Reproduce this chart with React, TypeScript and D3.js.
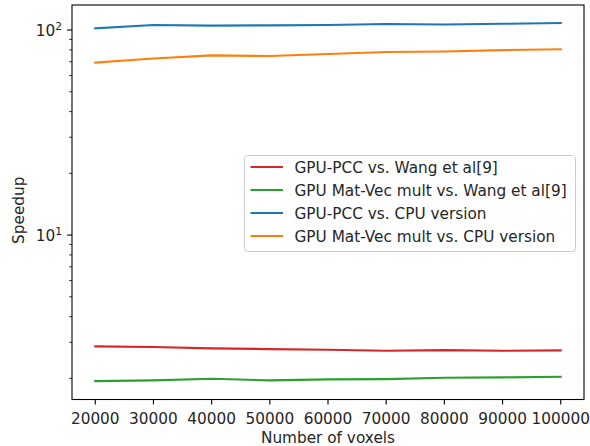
import React from 'react';
import * as d3 from 'd3';

const voxels = [20000, 30000, 40000, 50000, 60000, 70000, 80000, 90000, 100000];
const pccVsWang = [2.865, 2.843, 2.8, 2.779, 2.757, 2.727, 2.748, 2.727, 2.739];
const matVecVsWang = [1.94, 1.955, 1.991, 1.955, 1.977, 1.984, 2.013, 2.022, 2.036];
const pccVsCpu = [101.9, 105.8, 105.0, 105.4, 105.8, 107.0, 106.4, 107.2, 108.2];
const matVecVsCpu = [69.3, 72.6, 75.2, 74.7, 76.4, 78.1, 78.6, 79.8, 80.5];
const seriesNames = [
  'GPU-PCC vs. Wang et al[9]',
  'GPU Mat-Vec mult vs. Wang et al[9]',
  'GPU-PCC vs. CPU version',
  'GPU Mat-Vec mult vs. CPU version',
];
const seriesColors = ['#d62728', '#2ca02c', '#1f77b4', '#ff7f0e'];
const xTicks = [20000, 30000, 40000, 50000, 60000, 70000, 80000, 90000, 100000];
const yMajorTicks = [{ v: 10, exp: '1' }, { v: 100, exp: '2' }];

const W = 590, H = 446;
const L = 72, R = 584, T = 5, B = 399.5;
const FONT = 'DejaVu Sans, sans-serif';
const TXT = '#262626';
const FS = 15.3;

export default function App() {
  const x = d3.scaleLinear().domain([16000, 104000]).range([L, R]);
  const y = d3.scaleLog().domain([Math.pow(10, 0.198), Math.pow(10, 2.122)]).range([B, T]);
  const allSeries = [pccVsWang, matVecVsWang, pccVsCpu, matVecVsCpu];
  const line = d3.line<number>().x((_, i) => x(voxels[i])).y((d) => y(d));
  const [ymin, ymax] = y.domain();
  const minor: number[] = [];
  for (let e = 0; e <= 2; e++) {
    for (let m = 2; m <= 9; m++) {
      const v = m * Math.pow(10, e);
      if (v >= ymin && v <= ymax) minor.push(v);
    }
  }
  const drawOrder = [2, 3, 0, 1];
  const legX = 244.5, legY = 155.5, legW = 331, legH = 96;
  return (
    <svg width={W} height={H} style={{ position: 'absolute', left: 0, top: 0 }} fontFamily={FONT}>
      <rect x={0} y={0} width={W} height={H} fill="#fff" />
      {drawOrder.map((k) => (
        <path key={k} d={line(allSeries[k]) || ''} fill="none" stroke={seriesColors[k]} strokeWidth={2.1} strokeLinecap="square" />
      ))}
      <rect x={L} y={T} width={R - L} height={B - T} fill="none" stroke="#000" strokeWidth={1.1} />
      {xTicks.map((t) => (
        <g key={t}>
          <line x1={x(t)} x2={x(t)} y1={B} y2={B + 4.9} stroke="#000" strokeWidth={1.1} />
          <text x={x(t)} y={B + 24} textAnchor="middle" fontSize={FS} fill={TXT}>{t}</text>
        </g>
      ))}
      {minor.map((v) => (
        <line key={v} x1={L - 2.8} x2={L} y1={y(v)} y2={y(v)} stroke="#000" strokeWidth={0.8} />
      ))}
      {yMajorTicks.map((t) => (
        <g key={t.v}>
          <line x1={L - 4.9} x2={L} y1={y(t.v)} y2={y(t.v)} stroke="#000" strokeWidth={1.1} />
          <text x={L - 10} y={y(t.v) + 6} textAnchor="end" fontSize={FS} fill={TXT}>
            10<tspan fontSize={10.7} dy={-6.5}>{t.exp}</tspan>
          </text>
        </g>
      ))}
      <text x={(L + R) / 2} y={443} textAnchor="middle" fontSize={FS} fill={TXT}>Number of voxels</text>
      <text transform={`translate(24,${(T + B) / 2 + 8}) rotate(-90)`} textAnchor="middle" fontSize={FS} fill={TXT}>Speedup</text>
      <rect x={legX} y={legY} width={legW} height={legH} rx={3} fill="#fff" fillOpacity={0.8} stroke="#cccccc" strokeWidth={1} />
      {seriesNames.map((n, i) => {
        const ry = legY + 11.5 + i * 23;
        return (
          <g key={n}>
            <line x1={legX + 6} x2={legX + 38.5} y1={ry} y2={ry} stroke={seriesColors[i]} strokeWidth={2.1} />
            <text x={legX + 50} y={ry + 5.5} fontSize={FS} fill={TXT}>{n}</text>
          </g>
        );
      })}
    </svg>
  );
}
